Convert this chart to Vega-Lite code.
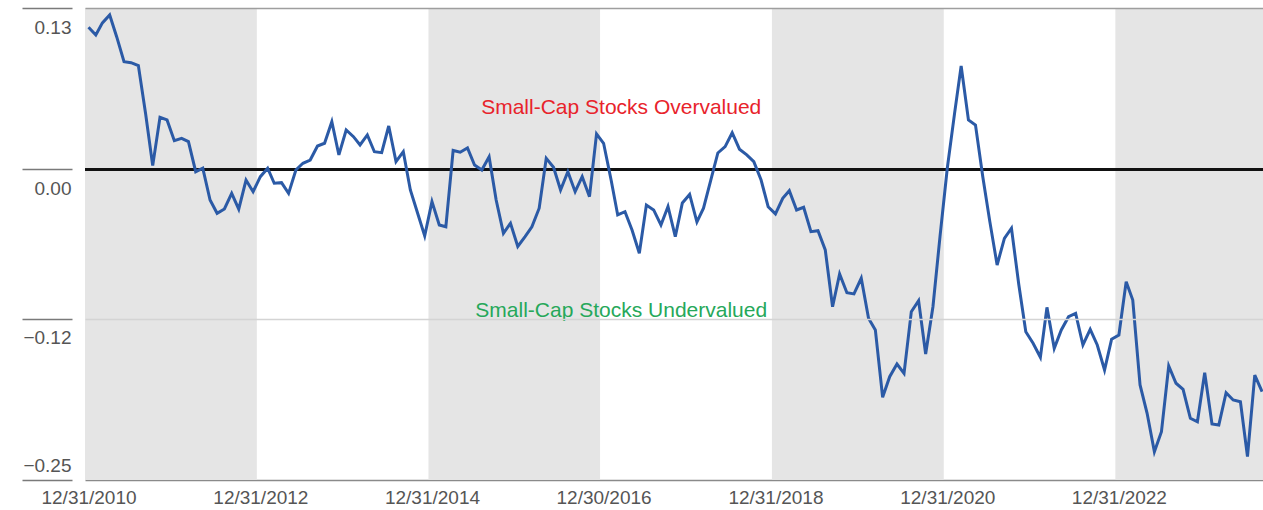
{
  "$schema": "https://vega.github.io/schema/vega-lite/v6.json",
  "width": 1178,
  "height": 472,
  "autosize": {"type": "none"},
  "padding": {"left": 85, "top": 8, "right": 0, "bottom": 30},
  "background": "white",
  "config": {
    "view": {"stroke": null},
    "font": "Liberation Sans, Arial, sans-serif"
  },
  "datasets": {
    "series": [
      {"d": "2010-12-31", "v": 0.1145}, {"d": "2011-01-31", "v": 0.1083}, {"d": "2011-02-28", "v": 0.1180}, {"d": "2011-03-31", "v": 0.1244},
      {"d": "2011-04-30", "v": 0.1067}, {"d": "2011-05-31", "v": 0.0868}, {"d": "2011-06-30", "v": 0.0860}, {"d": "2011-07-31", "v": 0.0836},
      {"d": "2011-08-31", "v": 0.0447}, {"d": "2011-09-30", "v": 0.0031}, {"d": "2011-10-31", "v": 0.0420}, {"d": "2011-11-30", "v": 0.0399},
      {"d": "2011-12-31", "v": 0.0232}, {"d": "2012-01-31", "v": 0.0251}, {"d": "2012-02-29", "v": 0.0224}, {"d": "2012-03-31", "v": -0.0018},
      {"d": "2012-04-30", "v": 0.0010}, {"d": "2012-05-31", "v": -0.0246}, {"d": "2012-06-30", "v": -0.0353}, {"d": "2012-07-31", "v": -0.0318},
      {"d": "2012-08-31", "v": -0.0192}, {"d": "2012-09-30", "v": -0.0320}, {"d": "2012-10-31", "v": -0.0085}, {"d": "2012-11-30", "v": -0.0179},
      {"d": "2012-12-31", "v": -0.0058}, {"d": "2013-01-31", "v": 0.0010}, {"d": "2013-02-28", "v": -0.0111}, {"d": "2013-03-31", "v": -0.0106},
      {"d": "2013-04-30", "v": -0.0192}, {"d": "2013-05-31", "v": -0.0004}, {"d": "2013-06-30", "v": 0.0050}, {"d": "2013-07-31", "v": 0.0076},
      {"d": "2013-08-31", "v": 0.0189}, {"d": "2013-09-30", "v": 0.0211}, {"d": "2013-10-31", "v": 0.0385}, {"d": "2013-11-30", "v": 0.0117},
      {"d": "2013-12-31", "v": 0.0318}, {"d": "2014-01-31", "v": 0.0264}, {"d": "2014-02-28", "v": 0.0197}, {"d": "2014-03-31", "v": 0.0278},
      {"d": "2014-04-30", "v": 0.0143}, {"d": "2014-05-31", "v": 0.0135}, {"d": "2014-06-30", "v": 0.0350}, {"d": "2014-07-31", "v": 0.0063},
      {"d": "2014-08-31", "v": 0.0143}, {"d": "2014-09-30", "v": -0.0165}, {"d": "2014-10-31", "v": -0.0353}, {"d": "2014-11-30", "v": -0.0535},
      {"d": "2014-12-31", "v": -0.0259}, {"d": "2015-01-31", "v": -0.0447}, {"d": "2015-02-28", "v": -0.0461}, {"d": "2015-03-31", "v": 0.0153},
      {"d": "2015-04-30", "v": 0.0139}, {"d": "2015-05-31", "v": 0.0173}, {"d": "2015-06-30", "v": 0.0036}, {"d": "2015-07-31", "v": -0.0004},
      {"d": "2015-08-31", "v": 0.0103}, {"d": "2015-09-30", "v": -0.0246}, {"d": "2015-10-31", "v": -0.0514}, {"d": "2015-11-30", "v": -0.0433},
      {"d": "2015-12-31", "v": -0.0620}, {"d": "2016-01-31", "v": -0.0541}, {"d": "2016-02-29", "v": -0.0461}, {"d": "2016-03-31", "v": -0.0312},
      {"d": "2016-04-30", "v": 0.0090}, {"d": "2016-05-31", "v": 0.0018}, {"d": "2016-06-30", "v": -0.0165}, {"d": "2016-07-31", "v": -0.0018},
      {"d": "2016-08-31", "v": -0.0179}, {"d": "2016-09-30", "v": -0.0058}, {"d": "2016-10-31", "v": -0.0219}, {"d": "2016-11-30", "v": 0.0286},
      {"d": "2016-12-30", "v": 0.0211}, {"d": "2017-01-31", "v": -0.0085}, {"d": "2017-02-28", "v": -0.0366}, {"d": "2017-03-31", "v": -0.0340},
      {"d": "2017-04-30", "v": -0.0487}, {"d": "2017-05-31", "v": -0.0675}, {"d": "2017-06-30", "v": -0.0286}, {"d": "2017-07-31", "v": -0.0326},
      {"d": "2017-08-31", "v": -0.0447}, {"d": "2017-09-30", "v": -0.0298}, {"d": "2017-10-31", "v": -0.0541}, {"d": "2017-11-30", "v": -0.0270},
      {"d": "2017-12-31", "v": -0.0201}, {"d": "2018-01-31", "v": -0.0423}, {"d": "2018-02-28", "v": -0.0312}, {"d": "2018-03-31", "v": -0.0085},
      {"d": "2018-04-30", "v": 0.0133}, {"d": "2018-05-31", "v": 0.0184}, {"d": "2018-06-30", "v": 0.0296}, {"d": "2018-07-31", "v": 0.0163},
      {"d": "2018-08-31", "v": 0.0117}, {"d": "2018-09-30", "v": 0.0063}, {"d": "2018-10-31", "v": -0.0085}, {"d": "2018-11-30", "v": -0.0300},
      {"d": "2018-12-31", "v": -0.0358}, {"d": "2019-01-31", "v": -0.0232}, {"d": "2019-02-28", "v": -0.0171}, {"d": "2019-03-31", "v": -0.0326},
      {"d": "2019-04-30", "v": -0.0304}, {"d": "2019-05-31", "v": -0.0501}, {"d": "2019-06-30", "v": -0.0493}, {"d": "2019-07-31", "v": -0.0648},
      {"d": "2019-08-31", "v": -0.1105}, {"d": "2019-09-30", "v": -0.0841}, {"d": "2019-10-31", "v": -0.0992}, {"d": "2019-11-30", "v": -0.1002},
      {"d": "2019-12-31", "v": -0.0876}, {"d": "2020-01-31", "v": -0.1198}, {"d": "2020-02-29", "v": -0.1292}, {"d": "2020-03-31", "v": -0.1834},
      {"d": "2020-04-30", "v": -0.1668}, {"d": "2020-05-31", "v": -0.1566}, {"d": "2020-06-30", "v": -0.1641}, {"d": "2020-07-31", "v": -0.1145},
      {"d": "2020-08-31", "v": -0.1056}, {"d": "2020-09-30", "v": -0.1486}, {"d": "2020-10-31", "v": -0.1105}, {"d": "2020-11-30", "v": -0.0541},
      {"d": "2020-12-31", "v": 0.0010}, {"d": "2021-01-31", "v": 0.0452}, {"d": "2021-02-28", "v": 0.0833}, {"d": "2021-03-31", "v": 0.0399},
      {"d": "2021-04-30", "v": 0.0358}, {"d": "2021-05-31", "v": -0.0058}, {"d": "2021-06-30", "v": -0.0420}, {"d": "2021-07-31", "v": -0.0769},
      {"d": "2021-08-31", "v": -0.0554}, {"d": "2021-09-30", "v": -0.0473}, {"d": "2021-10-31", "v": -0.0924}, {"d": "2021-11-30", "v": -0.1306},
      {"d": "2021-12-31", "v": -0.1399}, {"d": "2022-01-31", "v": -0.1512}, {"d": "2022-02-28", "v": -0.1110}, {"d": "2022-03-31", "v": -0.1440},
      {"d": "2022-04-30", "v": -0.1292}, {"d": "2022-05-31", "v": -0.1185}, {"d": "2022-06-30", "v": -0.1158}, {"d": "2022-07-31", "v": -0.1413},
      {"d": "2022-08-31", "v": -0.1287}, {"d": "2022-09-30", "v": -0.1413}, {"d": "2022-10-31", "v": -0.1614}, {"d": "2022-11-30", "v": -0.1367},
      {"d": "2022-12-31", "v": -0.1333}, {"d": "2023-01-31", "v": -0.0903}, {"d": "2023-02-28", "v": -0.1051}, {"d": "2023-03-31", "v": -0.1735},
      {"d": "2023-04-30", "v": -0.1963}, {"d": "2023-05-31", "v": -0.2272}, {"d": "2023-06-30", "v": -0.2111}, {"d": "2023-07-31", "v": -0.1582},
      {"d": "2023-08-31", "v": -0.1721}, {"d": "2023-09-30", "v": -0.1770}, {"d": "2023-10-31", "v": -0.2003}, {"d": "2023-11-30", "v": -0.2031},
      {"d": "2023-12-31", "v": -0.1636}, {"d": "2024-01-31", "v": -0.2049}, {"d": "2024-02-29", "v": -0.2057}, {"d": "2024-03-31", "v": -0.1797},
      {"d": "2024-04-30", "v": -0.1856}, {"d": "2024-05-31", "v": -0.1870}, {"d": "2024-06-30", "v": -0.2312}, {"d": "2024-07-31", "v": -0.1655},
      {"d": "2024-08-31", "v": -0.1789}
    ],
    "shading": [
      {"start": "2010-12-16", "end": "2012-12-16"},
      {"start": "2014-12-16", "end": "2016-12-15"},
      {"start": "2018-12-16", "end": "2020-12-16"},
      {"start": "2022-12-16", "end": "2024-09-04"}
    ],
    "over": [{"d": "2017-03-15", "v": 0.0447, "label": "Small-Cap Stocks Overvalued"}],
    "under": [{"d": "2017-03-15", "v": -0.1185, "label": "Small-Cap Stocks Undervalued"}]
  },
  "layer": [
    {
      "data": {"name": "shading"},
      "mark": {"type": "rect", "color": "#e5e5e5"},
      "encoding": {
        "x": {"field": "start", "type": "temporal", "scale": {"type": "utc"}},
        "x2": {"field": "end"},
        "y": {"datum": 0.13, "type": "quantitative"},
        "y2": {"datum": -0.25}
      }
    },
    {
      "data": {"name": "series"},
      "mark": {"type": "rule", "color": "#111111", "strokeWidth": 3},
      "encoding": {"y": {"datum": 0, "type": "quantitative"}}
    },
    {
      "data": {"name": "series"},
      "mark": {"type": "line", "color": "#2b5aa6", "strokeWidth": 3, "strokeJoin": "miter"},
      "encoding": {
        "x": {
          "field": "d", "type": "temporal",
          "scale": {"type": "utc", "domain": [{"year": 2010, "month": 12, "date": 16, "utc": true}, {"year": 2024, "month": 9, "date": 4, "utc": true}]},
          "axis": {
            "title": null,
            "values": [
              {"year": 2010, "month": 12, "date": 31, "utc": true},
              {"year": 2012, "month": 12, "date": 31, "utc": true},
              {"year": 2014, "month": 12, "date": 31, "utc": true},
              {"year": 2016, "month": 12, "date": 30, "utc": true},
              {"year": 2018, "month": 12, "date": 31, "utc": true},
              {"year": 2020, "month": 12, "date": 31, "utc": true},
              {"year": 2022, "month": 12, "date": 31, "utc": true}
            ],
            "format": "%m/%d/%Y",
            "grid": false,
            "ticks": false,
            "domain": true,
            "domainColor": "#8a8a8a",
            "domainWidth": 1.5,
            "labelFontSize": 19,
            "labelColor": "#555555",
            "labelPadding": 8,
            "labelFlush": false,
            "labelOverlap": false
          }
        },
        "y": {
          "field": "v", "type": "quantitative",
          "scale": {"domain": [-0.25, 0.13], "nice": false, "zero": false},
          "axis": {
            "title": null,
            "values": [0.13, 0, -0.12, -0.25],
            "format": ".2f",
            "offset": 13,
            "domain": false,
            "ticks": true,
            "tickSize": 50,
            "tickColor": "#7a7a7a",
            "tickWidth": 1.5,
            "labelAlign": "right",
            "labelBaseline": "alphabetic",
            "labelPadding": -49,
            "labelFlush": false,
            "labelOffset": {"condition": {"test": "datum.value < -0.2", "value": -9}, "value": 25},
            "labelFontSize": 19,
            "labelColor": "#555555",
            "grid": true,
            "gridColor": {"condition": {"test": "datum.value > 0.1", "value": "#9e9e9e"}, "value": "#d4d4d4"},
            "gridOpacity": {"condition": {"test": "datum.value == 0 || datum.value < -0.2", "value": 0}, "value": 1},
            "gridWidth": 1.5,
            "zindex": 1
          }
        }
      }
    },
    {
      "data": {"name": "over"},
      "mark": {"type": "text", "color": "#e8232b", "fontSize": 21, "baseline": "alphabetic", "align": "center"},
      "encoding": {
        "x": {"field": "d", "type": "temporal", "scale": {"type": "utc"}},
        "y": {"field": "v", "type": "quantitative"},
        "text": {"field": "label"}
      }
    },
    {
      "data": {"name": "under"},
      "mark": {"type": "text", "color": "#26a85a", "fontSize": 21, "baseline": "alphabetic", "align": "center"},
      "encoding": {
        "x": {"field": "d", "type": "temporal", "scale": {"type": "utc"}},
        "y": {"field": "v", "type": "quantitative"},
        "text": {"field": "label"}
      }
    }
  ]
}
